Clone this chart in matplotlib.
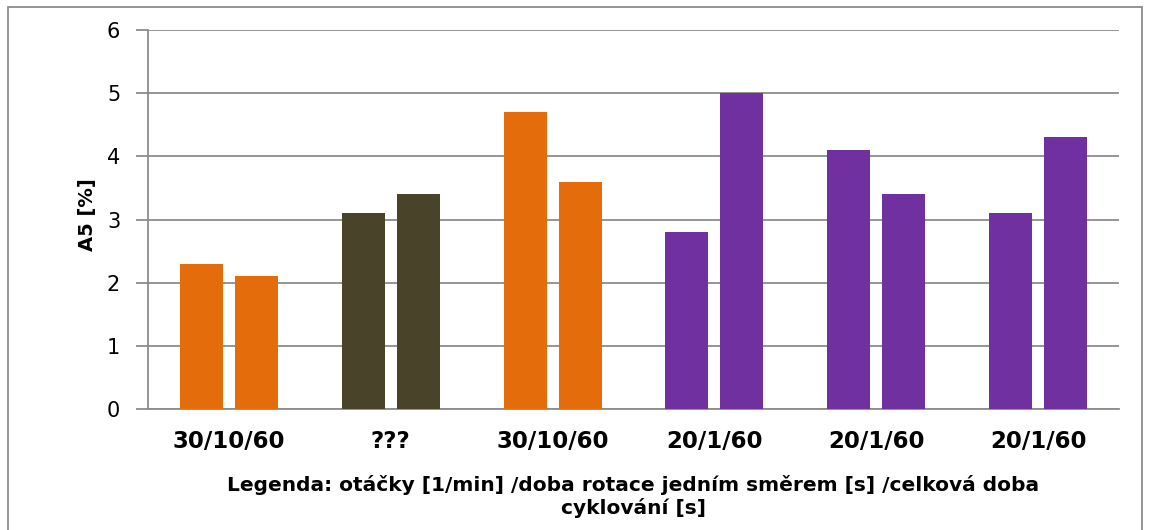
import matplotlib.pyplot as plt
import matplotlib.patches as mpatches
import numpy as np

categories = ['30/10/60', '???', '30/10/60', '20/1/60', '20/1/60', '20/1/60']
first = [2.3, 3.1, 4.7, 2.8, 4.1, 3.1]
second = [2.1, 3.4, 3.6, 5.0, 3.4, 4.3]
colors = ['#E46C0A', '#494429', '#E46C0A', '#7030A0', '#7030A0', '#7030A0']

W, H = 1149, 530
fig = plt.figure(figsize=(W / 100, H / 100), dpi=100)
ax = fig.add_axes([148 / W, 1 - 409 / H, (1119 - 148) / W, (409 - 30) / H])

x = np.arange(len(categories))
w = 0.265
ax.bar(x - 0.17, first, width=w, color=colors, zorder=3)
ax.bar(x + 0.17, second, width=w, color=colors, zorder=3)

ax.set_xlim(-0.5, len(categories) - 0.5)
ax.set_ylim(0, 6)
ax.set_yticks(range(7))
ax.yaxis.grid(True, color='#8c8c8c', linewidth=1.3, zorder=0)

for s in ['top', 'right']:
    ax.spines[s].set_visible(False)
for s in ['left', 'bottom']:
    ax.spines[s].set_color('#8c8c8c')
    ax.spines[s].set_linewidth(1.3)

# y ticks
ax.tick_params(axis='y', length=9, width=1.3, color='#8c8c8c', pad=11, labelsize=15)

# x ticks
ax.set_xticks(x)
ax.set_xticklabels(categories, fontfamily='DejaVu Sans', fontweight='bold', fontsize=16.5)
ax.tick_params(axis='x', length=0, pad=15)

fig.text(88 / W, 1 - 214.5 / H, 'A5 [%]', rotation=90, ha='center', va='center',
         fontfamily='DejaVu Sans', fontweight='bold', fontsize=14)
fig.text(633.5 / W, 1 - 475 / H,
         'Legenda: otáčky [1/min] /doba rotace jedním směrem [s] /celková doba\ncyklování [s]',
         ha='center', va='top', multialignment='center', fontfamily='DejaVu Sans',
         fontweight='bold', fontsize=14.5, linespacing=1.2)

# chart border
fig.patches.append(mpatches.Rectangle((8 / W, -0.01), (1142 - 8) / W, 1 - 7 / H + 0.01,
                                      transform=fig.transFigure, fill=False,
                                      edgecolor='#8c8c8c', linewidth=1.3))

plt.savefig('out.png', dpi=100)
